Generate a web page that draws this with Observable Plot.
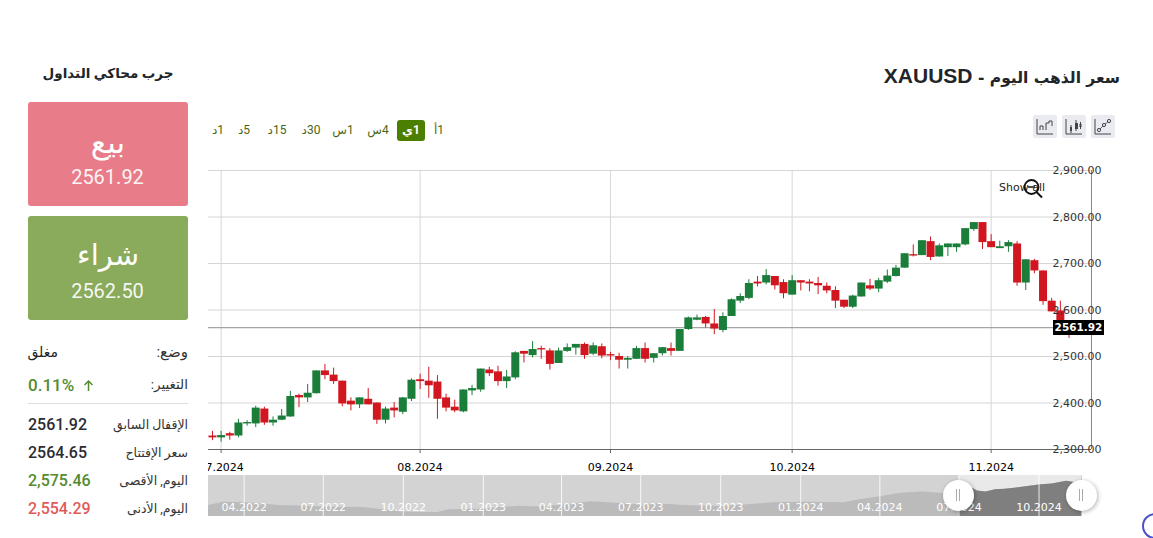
<!DOCTYPE html>
<html lang="ar">
<head>
<meta charset="utf-8">
<script src="https://cdn.jsdelivr.net/npm/d3@7"></script>
<script src="https://cdn.jsdelivr.net/npm/@observablehq/plot@0.6"></script>
<style>
html,body{margin:0;padding:0;background:#fff;overflow:hidden}
#page{position:relative;width:1153px;height:538px;font-family:Roboto,"DejaVu Sans",sans-serif;color:#212529;overflow:hidden}
.a{position:absolute;white-space:nowrap;line-height:1}
.c{transform:translate(-50%,-50%)}
.r{transform:translateY(-50%);direction:rtl}
.l{transform:translateY(-50%)}
.box{position:absolute;left:28px;width:160px;height:104px;border-radius:3px}
.tf{font-size:12px;color:#4b6613;direction:ltr;unicode-bidi:plaintext}
.ic{position:absolute;top:115px;width:24px;height:23px;background:#e9ebf1;border-radius:2px}
.ic svg{display:block}
.val{font-size:16px;font-weight:500}
.lab{font-size:13px;color:#333}
#main,#nav{position:absolute}
#main{left:208px;top:160px}
#nav{left:208px;top:475px}
.handle{position:absolute;top:479.5px;width:31px;height:31px;border-radius:50%;background:#fff;box-shadow:1px 1px 4px rgba(0,0,0,.3)}
.handle i{position:absolute;top:9px;height:12px;width:1px;background:#aaa}
</style>
</head>
<body>
<div id="page"></div>
<script>
const open = [2329,2325,2334,2329,2355,2355,2387,2357,2363,2370,
2416,2411,2420,2469,2460,2447,2404,2396,2408,2400,
2363,2389,2380,2408,2450,2447,2445,2411,2391,2381,
2426,2428,2471,2467,2446,2454,2511,2502,2517,2512,
2485,2511,2518,2526,2505,2521,2504,2500,2492,2494,
2517,2496,2506,2517,2511,2558,2578,2584,2570,2556,
2586,2619,2625,2660,2658,2672,2659,2632,2663,2660,
2657,2651,2642,2621,2606,2628,2652,2645,2660,2672,
2690,2719,2717,2747,2714,2734,2734,2740,2773,2788,
2747,2732,2736,2742,2658,2706,2684,2619,2598,2564.65];
const close = [2325,2330,2329,2357,2358,2389,2357,2363,2372,2414,
2411,2421,2469,2459,2446,2398,2396,2411,2396,2363,
2387,2383,2411,2449,2446,2437,2408,2389,2383,2428,
2431,2473,2463,2446,2456,2508,2505,2515,2514,2483,
2512,2519,2526,2502,2523,2501,2501,2492,2496,2517,
2494,2506,2519,2511,2558,2583,2583,2570,2559,2586,
2622,2629,2657,2656,2674,2652,2635,2663,2658,2656,
2652,2641,2619,2606,2630,2658,2645,2663,2673,2690,
2721,2716,2749,2713,2738,2742,2742,2775,2788,2745,
2734,2736,2745,2658,2708,2684,2618,2596,2564,2561.92];
const high = [2339,2339,2337,2365,2362,2393,2391,2370,2386,2425,
2419,2440,2469,2483,2475,2447,2411,2411,2431,2400,
2391,2401,2412,2452,2462,2477,2459,2419,2406,2428,
2438,2473,2477,2479,2470,2510,2511,2532,2522,2517,
2518,2527,2526,2529,2529,2527,2509,2507,2500,2522,
2529,2506,2519,2529,2558,2585,2589,2586,2601,2594,
2624,2635,2665,2672,2687,2672,2665,2674,2663,2665,
2670,2658,2650,2621,2632,2658,2666,2668,2686,2696,
2721,2740,2749,2757,2742,2742,2742,2775,2788,2788,
2762,2748,2749,2747,2708,2709,2684,2625,2619,2577];
const low = [2319,2316,2320,2325,2350,2347,2352,2350,2362,2369,
2390,2401,2419,2450,2440,2392,2383,2388,2396,2354,
2355,2368,2375,2403,2429,2410,2365,2381,2379,2379,
2416,2423,2457,2436,2431,2450,2486,2497,2494,2471,
2485,2509,2503,2494,2502,2495,2491,2473,2473,2494,
2486,2486,2501,2501,2511,2556,2577,2561,2547,2551,
2586,2614,2622,2650,2654,2643,2624,2632,2641,2639,
2633,2635,2603,2603,2603,2628,2642,2637,2657,2671,
2690,2714,2717,2706,2714,2715,2724,2738,2769,2730,
2734,2732,2724,2651,2642,2678,2610,2596,2563,2539];

const monthSessions = [1,24,46,67,90];
const monthLabels = ["07.2024","08.2024","09.2024","10.2024","11.2024"];
const priceTicks = [2300,2400,2500,2600,2700,2800,2900];
const lastPrice = 2561.92;

const navDates = ["2022-02-19","2022-03-08","2022-04-01","2022-04-18","2022-05-10","2022-06-10","2022-07-01","2022-08-15","2022-09-01","2022-09-28","2022-10-20","2022-11-10","2022-11-22","2023-01-01","2023-02-10","2023-03-05","2023-04-01","2023-05-05","2023-05-25","2023-07-01","2023-07-20","2023-08-20","2023-10-01","2023-10-28","2023-12-01","2024-01-01","2024-02-20","2024-03-10","2024-04-01","2024-04-25","2024-05-20","2024-06-15","2024-07-01","2024-07-17","2024-07-22","2024-08-01","2024-08-12","2024-08-23","2024-09-03","2024-09-14","2024-10-01","2024-10-16","2024-11-02","2024-11-09","2024-11-19"];
const navPrices = [1900,2025,2000,1975,1900,1875,1850,1825,1775,1675,1650,1650,1750,1775,1875,1850,1912,2037,2000,1925,1962,1900,1862,1925,2000,2025,2000,2125,2225,2350,2400,2337,2450,2525,2437,2400,2475,2500,2537,2575,2650,2687,2787,2750,2675];
const navTickDates = ["2022-04-01","2022-07-01","2022-10-01","2023-01-01","2023-04-01","2023-07-01","2023-10-01","2024-01-01","2024-04-01","2024-07-01","2024-10-01"];
const navTickLabels = ["04.2022","07.2022","10.2022","01.2023","04.2023","07.2023","10.2023","01.2024","04.2024","07.2024","10.2024"];
const navSpan = ["2022-02-19","2024-11-20"];
const navSelected = ["2024-07-01","2024-11-19"];
const navFloor = 1500, navCeil = 3000;

const candles = open.map((o,i)=>({i,open:o,close:close[i],high:high[i],low:low[i],up:close[i]>=o}));
const UP="#1b7d3a", DOWN="#d1161f";
const xEnd = 101.6;

const main = Plot.plot({
  width:902, height:315, marginLeft:0, marginRight:19, marginTop:10, marginBottom:26,
  style:{fontFamily:"'DejaVu Sans',sans-serif",fontSize:"11px",background:"transparent",color:"#000"},
  x:{domain:[-0.46,xEnd],axis:null},
  y:{domain:[2300,2900],axis:null},
  marks:[
    Plot.ruleY(priceTicks.filter(d=>d>2300),{stroke:"#d6d6d6",strokeWidth:1}),
    Plot.ruleX(monthSessions,{stroke:"#d6d6d6",strokeWidth:1}),
    Plot.ruleY([lastPrice],{stroke:"#8f8f8f",strokeWidth:1}),
    Plot.ruleX(candles,{x:"i",y1:"low",y2:"high",stroke:d=>d.up?UP:DOWN,strokeWidth:1}),
    Plot.ruleX(candles,{x:"i",y1:"open",y2:"close",stroke:d=>d.up?UP:DOWN,strokeWidth:8}),
    Plot.ruleY([2300],{stroke:"#666",strokeWidth:1}),
    Plot.ruleX([xEnd],{stroke:"#888",strokeWidth:1}),
    Plot.axisY(priceTicks,{anchor:"right",label:null,tickSize:0,tickPadding:-39,tickFormat:d3.format(",.2f"),fill:"#333",fontSize:11}),
    Plot.axisX(monthSessions,{anchor:"bottom",label:null,tickSize:4,tickPadding:10,tickFormat:(d,i)=>monthLabels[i],stroke:"#666",fill:"#000",fontSize:11})
  ]
});
main.id="main";

const navRows = navDates.map((d,i)=>({date:new Date(d),price:navPrices[i]}));
const sel0 = new Date(navSelected[0]), sel1 = new Date(navSelected[1]);
const navTicks = navTickDates.map((d,i)=>({date:new Date(d),label:navTickLabels[i]}));
const nav = Plot.plot({
  width:874, height:41, margin:0, marginBottom:0,
  style:{fontFamily:"'DejaVu Sans',sans-serif",fontSize:"11px",background:"transparent"},
  x:{type:"utc",domain:navSpan.map(d=>new Date(d)),axis:null},
  y:{domain:[navFloor,navCeil],axis:null},
  marks:[
    Plot.rect([{}],{x1:()=>new Date(navSpan[0]),x2:()=>new Date(navSpan[1]),y1:()=>navFloor,y2:()=>navCeil,fill:"#d3d3d3"}),
    Plot.rect([{}],{x1:()=>sel0,x2:()=>sel1,y1:()=>navFloor,y2:()=>navCeil,fill:"#e9e9e9"}),
    Plot.areaY(navRows,{x:"date",y1:()=>navFloor,y2:"price",fill:"#bbbbbb"}),
    Plot.areaY(navRows.filter(d=>d.date>=sel0&&d.date<=sel1),{x:"date",y1:()=>navFloor,y2:"price",fill:"#7f7f7f"}),
    Plot.ruleX(navTicks,{x:"date",stroke:"#fff",strokeWidth:1,strokeOpacity:.85}),
    Plot.text(navTicks,{x:"date",text:"label",frameAnchor:"bottom",dy:-6,fill:"#fff",fontSize:11})
  ]
});
nav.id="nav";

const page=document.getElementById("page");
page.innerHTML=`
<div class="a r" style="right:33px;top:76px;font-weight:700;font-family:'DejaVu Sans',sans-serif;font-size:15.5px"><span>سعر الذهب اليوم</span> - <span style="font-family:'Liberation Sans',sans-serif;font-size:21px">XAUUSD</span></div>
<div class="a c" style="left:108px;top:74px;font-size:13.5px;font-weight:700;direction:rtl">جرب محاكي التداول</div>
<div class="box" style="top:102px;background:#e97c89"></div>
<div class="a c" style="left:108px;top:142px;font-size:31px;color:#fff;direction:rtl;font-weight:500">بيع</div>
<div class="a c" style="left:107.5px;top:177px;font-size:20px;color:#fff;opacity:.92">2561.92</div>
<div class="box" style="top:216px;background:#8aab5b"></div>
<div class="a c" style="left:108px;top:255px;font-size:29px;color:#fff;direction:rtl">شراء</div>
<div class="a c" style="left:107.5px;top:291px;font-size:20px;color:#fff;opacity:.92">2562.50</div>
<div class="a r lab" style="right:965px;top:352px;font-size:15px">وضع:</div>
<div class="a l" style="left:28px;top:352px;font-size:14px;color:#222;width:30px;text-align:left;direction:rtl">مغلق</div>
<div class="a r lab" style="right:965px;top:385px;font-size:13.5px">التغيير:</div>
<div class="a l val" style="left:28px;top:385px;color:#558b2f;font-size:17px">0.11%</div>
<svg class="a" style="left:82px;top:379px" width="13" height="13" viewBox="0 0 13 13"><path d="M6.5 12V2M2.5 6L6.5 2L10.5 6" fill="none" stroke="#558b2f" stroke-width="1.5"/></svg>
<div class="a" style="left:28px;top:403px;width:160px;height:1px;background:#ddd"></div>
<div class="a r lab" style="right:965px;top:425px;font-size:12.5px">الإقفال السابق</div>
<div class="a l val" style="left:28px;top:425px;color:#2b2b33">2561.92</div>
<div class="a r lab" style="right:965px;top:453px;font-size:12.5px">سعر الإفتتاح</div>
<div class="a l val" style="left:28px;top:453px;color:#2b2b33">2564.65</div>
<div class="a r lab" style="right:965px;top:481px;font-size:12.5px">اليوم, الأقصى</div>
<div class="a l val" style="left:28px;top:481px;color:#558b2f">2,575.46</div>
<div class="a r lab" style="right:965px;top:509px;font-size:12.5px">اليوم, الأدنى</div>
<div class="a l val" style="left:28px;top:509px;color:#e05a5a">2,554.29</div>
<div class="a c tf" style="left:439px;top:130px">1أ</div>
<div class="a" style="left:397px;top:120px;width:28px;height:21px;background:#4c7f00;border-radius:3px"></div>
<div class="a c tf" style="left:411px;top:130px;color:#fff;font-weight:700">1ي</div>
<div class="a c tf" style="left:378px;top:130px">4س</div>
<div class="a c tf" style="left:343px;top:130px">1س</div>
<div class="a c tf" style="left:311px;top:130px">30د</div>
<div class="a c tf" style="left:277px;top:130px">15د</div>
<div class="a c tf" style="left:244px;top:130px">5د</div>
<div class="a c tf" style="left:218px;top:130px">1د</div>
<div class="ic" style="left:1033px"><svg width="24" height="23" viewBox="0 0 24 23"><path d="M4 4V19H20" fill="none" stroke="#444" stroke-width="1"/><path d="M7 15V11H10V15M13 15V8H16V6H19V11" fill="none" stroke="#444" stroke-width="1"/></svg></div>
<div class="ic" style="left:1062px"><svg width="24" height="23" viewBox="0 0 24 23"><path d="M4 4V19H20" fill="none" stroke="#444" stroke-width="1"/><path d="M9 10V18M14 5V16M18.500 7V14" stroke="#444" stroke-width="1"/><rect x="8" y="12" width="2" height="4" fill="#444"/><rect x="13" y="8" width="3" height="6" fill="#444"/><rect x="17.500" y="9" width="2" height="3" fill="#444"/></svg></div>
<div class="ic" style="left:1091px"><svg width="24" height="23" viewBox="0 0 24 23"><path d="M4 4V19H20" fill="none" stroke="#444" stroke-width="1"/><path d="M8 15L13 10L18 6" fill="none" stroke="#666"/><circle cx="8" cy="15" r="1.600" fill="#e9ebf1" stroke="#444"/><circle cx="13" cy="10" r="1.600" fill="#e9ebf1" stroke="#444"/><circle cx="18" cy="6" r="1.600" fill="#e9ebf1" stroke="#444"/></svg></div>
`;
page.append(main,nav);
page.insertAdjacentHTML("beforeend",`
<div class="a l" style="left:999px;top:187px;font:11px 'DejaVu Sans',sans-serif;color:#222">Show all</div>
<svg class="a" style="left:1022px;top:178px" width="22" height="22" viewBox="0 0 22 22"><circle cx="9.500" cy="9" r="7" fill="none" stroke="#111" stroke-width="1.800"/><path d="M14.500 14L20 19.500" stroke="#111" stroke-width="2"/><path d="M6 9H13" stroke="#111" stroke-width="1.500"/></svg>
<div class="a" style="left:1053px;top:320px;width:51px;height:15px;background:#000;color:#fff;font:bold 10.5px/15px 'DejaVu Sans',sans-serif;text-align:center">2561.92</div>
<div class="handle" style="left:942.500px"><i style="left:13px"></i><i style="left:16px"></i></div>
<div class="handle" style="left:1066px"><i style="left:13px"></i><i style="left:16px"></i></div>
<div class="a" style="left:1142px;top:513px;width:22px;height:22px;border:2px solid #4a50c8;border-radius:50%"></div>
`);
</script>
</body>
</html>
